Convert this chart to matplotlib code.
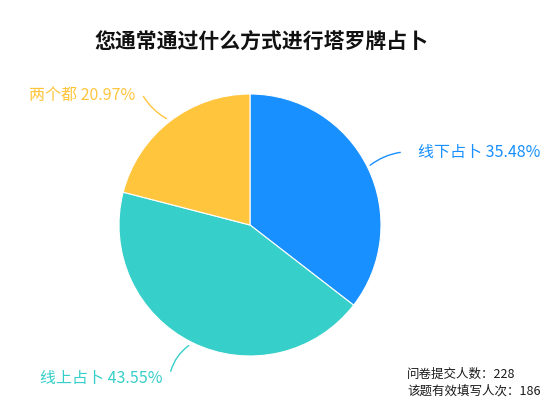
import matplotlib
matplotlib.use("Agg")
import matplotlib.pyplot as plt

plt.rcParams["font.family"] = ["Noto Sans CJK SC", "DejaVu Sans"]

title = "您通常通过什么方式进行塔罗牌占卜"
labels = ["线下占卜", "线上占卜", "两个都"]
values = [35.48, 43.55, 20.97]
colors = ["#1890FF", "#36CFC9", "#FFC53D"]
note_lines = ["问卷提交人数：228", "该题有效填写人次：186"]

W, H = 553, 415
fig = plt.figure(figsize=(W / 100, H / 100), dpi=100)
ax = fig.add_axes([0, 0, 1, 1])
ax.set_xlim(0, W)
ax.set_ylim(0, H)
ax.set_aspect("equal")
ax.axis("off")

cx, cy, r = 250, H - 225, 131
ax.pie(values, colors=colors, startangle=90, counterclock=False,
       center=(cx, cy), radius=r,
       wedgeprops=dict(edgecolor="white", linewidth=0.8))
ax.set_xlim(0, W)
ax.set_ylim(0, H)

# label lines (pixel coords from the top)
lines = [
    ((368, 167), (403, 152), (418, 152), "left", 0.15),
    ((191, 344), (170, 374), (162, 378), "right", -0.2),
    ((169, 120), (142, 94), (135, 95), "right", 0.15),
]
for (lab, v, c, (p0, p1, pt, ha, rad)) in zip(labels, values, colors, lines):
    ax.annotate("", xy=(p0[0], H - p0[1]), xytext=(p1[0], H - p1[1]),
                arrowprops=dict(arrowstyle="-", color=c, lw=1.0,
                                connectionstyle="arc3,rad=%s" % rad))
    ax.text(pt[0], H - pt[1], "%s %.2f%%" % (lab, v), color=c,
            fontsize=11.5, ha=ha, va="center", fontweight="medium")

ax.text(261, H - 42, title, fontsize=15, fontweight="bold",
        ha="center", va="center", color="#111111")
ax.text(407, H - 374, note_lines[0], fontsize=9, ha="left", va="center", color="#1a1a1a")
ax.text(407, H - 391, note_lines[1], fontsize=9, ha="left", va="center", color="#1a1a1a")

fig.savefig("out.png", dpi=100, facecolor="white")
